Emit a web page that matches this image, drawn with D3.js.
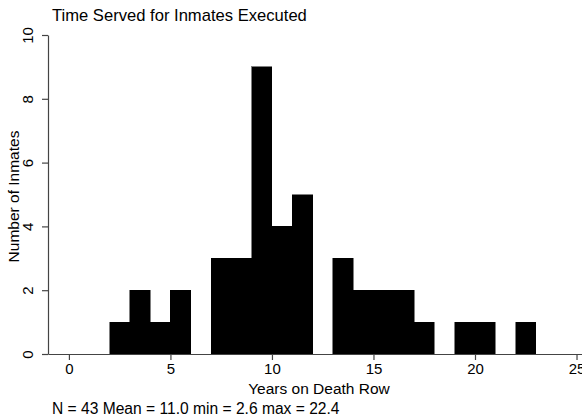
<!DOCTYPE html>
<html>
<head>
<meta charset="utf-8">
<script src="https://cdn.jsdelivr.net/npm/d3@7"></script>
<style>
  html, body { margin: 0; padding: 0; background: #fff; }
  svg { display: block; font-family: "Liberation Sans", Arial, sans-serif; }
</style>
</head>
<body>
<svg id="chart" width="582" height="420"></svg>
<script>
// Histogram of years served on death row, one-year bins
const binStarts = [2, 3, 4, 5, 6, 7, 8, 9, 10, 11, 12, 13, 14, 15, 16, 17, 18, 19, 20, 21, 22];
const counts    = [1, 2, 1, 2, 0, 3, 3, 9, 4, 5, 0, 3, 2, 2, 2, 1, 0, 1, 1, 0, 1];
const binWidth = 1;
const xTicks = [0, 5, 10, 15, 20, 25];
const yTicks = [0, 2, 4, 6, 8, 10];
const titleText = "Time Served for Inmates Executed";
const xTitle = "Years on Death Row";
const yTitle = "Number of Inmates";
const noteText = "N = 43 Mean = 11.0 min = 2.6 max = 22.4";

const svg = d3.select("#chart");

const x = d3.scaleLinear().domain([-1.03, 25.27]).range([48, 582]);
const y = d3.scaleLinear().domain([0, 10]).range([354, 35]);

// bars
svg.append("g")
  .selectAll("rect")
  .data(binStarts.map((s, i) => ({ s, c: counts[i] })).filter(d => d.c > 0))
  .join("rect")
  .attr("x", d => x(d.s))
  .attr("width", d => x(d.s + binWidth) - x(d.s))
  .attr("y", d => y(d.c))
  .attr("height", d => y(0) - y(d.c))
  .attr("fill", "#000")
  .attr("stroke", "#000")
  .attr("stroke-width", 0.5)
  .attr("shape-rendering", "crispEdges");

// x axis
const gx = svg.append("g")
  .attr("transform", `translate(0,${y(0)})`)
  .call(d3.axisBottom(x).tickValues(xTicks).tickSize(6).tickSizeOuter(0).tickPadding(3));
gx.select(".domain").attr("stroke", "#444").attr("stroke-width", 1.2);
gx.selectAll(".tick line").attr("stroke", "#444").attr("stroke-width", 1.2);
gx.selectAll(".tick text").attr("font-size", 15).attr("fill", "#000")
  .attr("font-family", "Liberation Sans, Arial, sans-serif");

// y axis
const gy = svg.append("g")
  .attr("transform", `translate(${x.range()[0]},0)`)
  .call(d3.axisLeft(y).tickValues(yTicks).tickSize(6).tickSizeOuter(0).tickPadding(3));
gy.select(".domain").attr("stroke", "#444").attr("stroke-width", 1.2);
gy.selectAll(".tick line").attr("stroke", "#444").attr("stroke-width", 1.2);
gy.selectAll(".tick text")
  .attr("font-size", 15).attr("fill", "#000")
  .attr("font-family", "Liberation Sans, Arial, sans-serif")
  .attr("x", null).attr("dy", null)
  .attr("text-anchor", "middle")
  .attr("transform", "translate(-15,0) rotate(-90)")
  .attr("y", 0);

// titles
svg.append("text")
  .attr("x", 52).attr("y", 21)
  .attr("font-size", 16.6)
  .text(titleText);

svg.append("text")
  .attr("x", 319).attr("y", 394)
  .attr("text-anchor", "middle")
  .attr("font-size", 15.5)
  .text(xTitle);

svg.append("text")
  .attr("transform", `translate(19,${y(5) + 2}) rotate(-90)`)
  .attr("text-anchor", "middle")
  .attr("font-size", 15.5)
  .text(yTitle);

svg.append("text")
  .attr("x", 52).attr("y", 414)
  .attr("font-size", 15.6)
  .text(noteText);
</script>
</body>
</html>
